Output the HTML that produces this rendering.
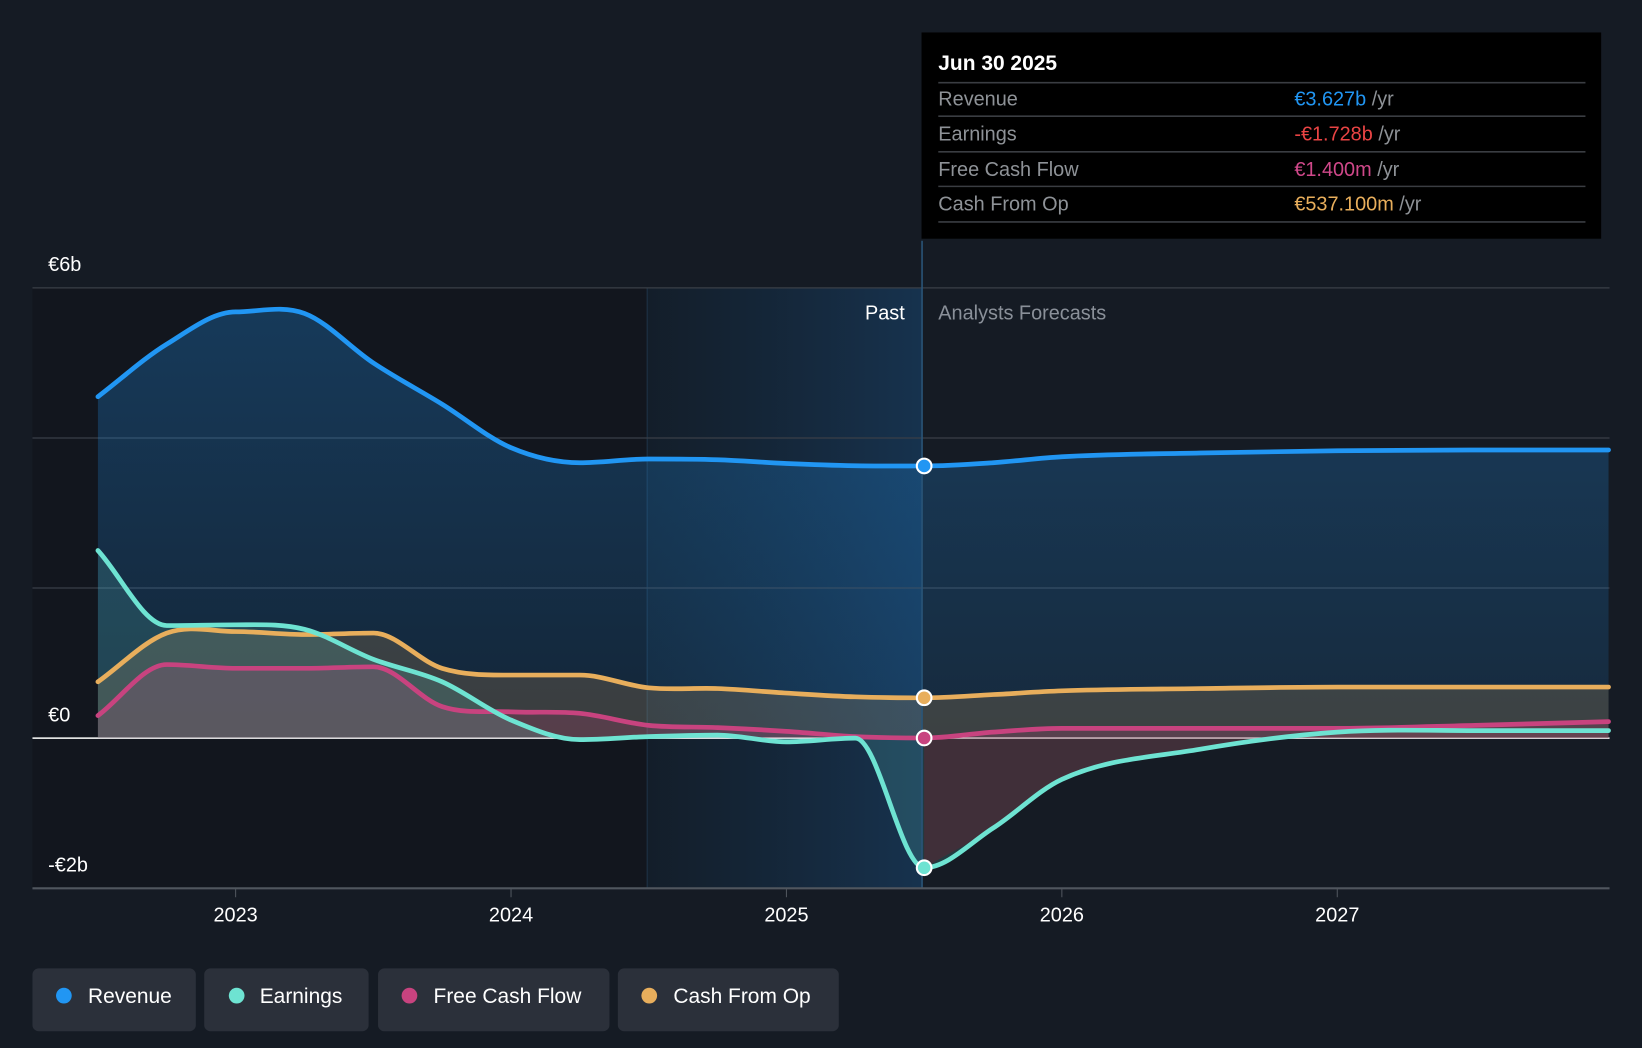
<!DOCTYPE html>
<html><head><meta charset="utf-8">
<style>
html,body{margin:0;padding:0;background:#151b24;overflow:hidden}
svg{display:block;font-family:"Liberation Sans",sans-serif}
</style></head>
<body>
<svg id="chart" width="1642" height="1048" viewBox="0 0 1568 1001" preserveAspectRatio="none">
<defs>
<linearGradient id="pastGrad" x1="0" y1="0" x2="1" y2="0">
<stop offset="0" stop-color="#12202e" stop-opacity="0.6"/><stop offset="1" stop-color="#173a5c" stop-opacity="0.75"/></linearGradient>
<linearGradient id="revGrad" x1="0" y1="0" x2="0" y2="1">
<stop offset="0" stop-color="#2196f3" stop-opacity="0.28"/><stop offset="1" stop-color="#2196f3" stop-opacity="0.12"/></linearGradient>
</defs>
<rect x="0" y="0" width="1568" height="1001" fill="#151b24"/>
<rect x="31" y="275" width="587" height="573" fill="#12161e"/>
<rect x="618" y="275" width="262" height="573" fill="url(#pastGrad)"/>
<line x1="618" y1="275" x2="618" y2="848" stroke="#1f3447" stroke-width="1"/>
<g id="grid"></g>
<g id="areas"></g>
<g id="lines"></g>
<line x1="880.5" y1="230" x2="880.5" y2="848" stroke="#2a5578" stroke-width="1.5"/>
<g id="dots"></g>
<g id="axes"></g>
<text x="864" y="305" text-anchor="end" fill="#ffffff" font-size="19">Past</text>
<text x="896" y="305" fill="#8a9099" font-size="19">Analysts Forecasts</text>

<g>
<rect x="880" y="31" width="649" height="197" fill="#000000"/>
<text x="896" y="67" fill="#ffffff" font-size="20" font-weight="bold">Jun 30 2025</text>
<g stroke="#3a3d42" stroke-width="1.5">
<line x1="896" y1="79" x2="1514" y2="79"/><line x1="896" y1="111" x2="1514" y2="111"/>
<line x1="896" y1="145" x2="1514" y2="145"/><line x1="896" y1="178" x2="1514" y2="178"/>
<line x1="896" y1="212" x2="1514" y2="212"/></g>
<g font-size="19" fill="#8e9297">
<text x="896" y="101">Revenue</text>
<text x="896" y="134">Earnings</text>
<text x="896" y="168">Free Cash Flow</text>
<text x="896" y="201">Cash From Op</text>
<text x="1236" y="101"><tspan fill="#2196f3">€3.627b</tspan> /yr</text>
<text x="1236" y="134"><tspan fill="#e94444">-€1.728b</tspan> /yr</text>
<text x="1236" y="168"><tspan fill="#d0488a">€1.400m</tspan> /yr</text>
<text x="1236" y="201"><tspan fill="#e8ae5c">€537.100m</tspan> /yr</text>
</g></g>

<g font-size="20" fill="#ffffff">
<g><rect x="31" y="925" width="156" height="60" rx="6" fill="#2b303a"/><circle cx="61" cy="951" r="7.5" fill="#2196f3"/><text x="84" y="958">Revenue</text></g>
<g><rect x="195" y="925" width="157" height="60" rx="6" fill="#2b303a"/><circle cx="226" cy="951" r="7.5" fill="#6ee3d2"/><text x="248" y="958">Earnings</text></g>
<g><rect x="361" y="925" width="221" height="60" rx="6" fill="#2b303a"/><circle cx="391" cy="951" r="7.5" fill="#c8437f"/><text x="414" y="958">Free Cash Flow</text></g>
<g><rect x="590" y="925" width="211" height="60" rx="6" fill="#2b303a"/><circle cx="620" cy="951" r="7.5" fill="#e8ae5c"/><text x="643" y="958">Cash From Op</text></g>
</g>
</svg>
<script>
const years = [2022.5,2022.75,2023,2023.25,2023.5,2023.75,2024,2024.25,2024.5,2024.75,2025,2025.25,2025.5,2025.75,2026,2026.5,2027,2027.5,2027.985];
const revenue = [4.55,5.25,5.68,5.66,5.0,4.45,3.87,3.67,3.72,3.71,3.66,3.63,3.627,3.67,3.75,3.8,3.83,3.84,3.84];
const earnings = [2.5,1.5,1.51,1.45,1.05,0.75,0.24,-0.02,0.02,0.04,-0.05,0.0,-1.728,-1.2,-0.55,-0.15,0.08,0.1,0.1];
const fcf = [0.3,0.98,0.93,0.93,0.95,0.42,0.35,0.33,0.17,0.14,0.09,0.02,0.0014,0.08,0.13,0.13,0.13,0.17,0.22];
const cfo = [0.75,1.4,1.42,1.38,1.4,0.93,0.84,0.84,0.67,0.66,0.6,0.55,0.537,0.58,0.63,0.66,0.68,0.68,0.68];
const yTicks = [-2,0,2,4,6];
const yTickLabels = {"-2":"-€2b","0":"€0","6":"€6b"};
const xTicks = [2023,2024,2025,2026,2027];
const currentX = 2025.5;

const NS="http://www.w3.org/2000/svg";
const xs = v => 225 + (v-2023)*263;
const ys = v => 705 - v*71.67;
function mk(tag, attrs, parent){const e=document.createElementNS(NS,tag);for(const k in attrs)e.setAttribute(k,attrs[k]);parent.appendChild(e);return e;}

function pathD(xv, yv){
  const n=xv.length, px=xv.map(xs), py=yv.map(ys);
  const d=[],m=[];
  for(let i=0;i<n-1;i++) d.push((py[i+1]-py[i])/(px[i+1]-px[i]));
  for(let i=0;i<n;i++){
    if(i===0) m.push(d[0]); else if(i===n-1) m.push(d[n-2]);
    else m.push(d[i-1]*d[i]<=0?0:(d[i-1]+d[i])/2);
  }
  let s="M"+px[0]+","+py[0];
  for(let i=0;i<n-1;i++){
    const h=(px[i+1]-px[i])/3;
    s+=" C"+(px[i]+h)+","+(py[i]+m[i]*h)+" "+(px[i+1]-h)+","+(py[i+1]-m[i+1]*h)+" "+px[i+1]+","+py[i+1];
  }
  return s;
}

const grid=document.getElementById('grid');
yTicks.forEach(t=>{
  const l=mk('line',{x1:31,x2:1537,y1:ys(t),y2:ys(t),stroke:t===0?'#ffffff':'#3a3f47','stroke-width':t===0?1.5:1.2},grid);
  
  
  if(yTickLabels[String(t)]){
    const tx=mk('text',{x:46,y:ys(t)-16,fill:'#ffffff','font-size':19},grid);
    tx.textContent=yTickLabels[String(t)];
    
    
  }
});

const axes=document.getElementById('axes');
const base=mk('line',{x1:31,x2:1537,y1:848.5,y2:848.5,stroke:'#50565e','stroke-width':2},axes);


xTicks.forEach(t=>{
  const tk=mk('line',{x1:xs(t),x2:xs(t),y1:849,y2:857,stroke:'#50565e','stroke-width':1},axes);
  
  
  const tx=mk('text',{x:xs(t),y:880,fill:'#ffffff','font-size':19,'text-anchor':'middle'},axes);
  tx.textContent=String(t);
  
  
});

const series=[
  {name:'revenue',data:revenue,color:'#2196f3',fill:'url(#revGrad)'},
  {name:'cash-from-op',data:cfo,color:'#e8ae5c',fill:'rgba(232,174,92,0.18)'},
  {name:'free-cash-flow',data:fcf,color:'#c8437f',fill:'rgba(200,67,127,0.2)'},
  {name:'earnings',data:earnings,color:'#6ee3d2',fill:'rgba(110,227,210,0.16)'}
];
const areas=document.getElementById('areas'), lines=document.getElementById('lines'), dots=document.getElementById('dots');
const idx=years.indexOf(currentX);
series.forEach(s=>{
  const d=pathD(years,s.data);
  const a=mk('path',{d:d+" L"+xs(years[years.length-1])+","+ys(0)+" L"+xs(years[0])+","+ys(0)+" Z",fill:s.fill,stroke:'none'},areas);
  
  
});
const negArea=mk('path',{d:pathD(years.slice(idx),earnings.slice(idx))+" L"+xs(years[years.length-1])+","+ys(0)+" L"+xs(currentX)+","+ys(0)+" Z",fill:'rgba(120,30,45,0.35)'},areas);


series.forEach(s=>{
  const l=mk('path',{d:pathD(years,s.data),fill:'none',stroke:s.color,'stroke-width':4.5,'stroke-linecap':'round'},lines);
  
  
  const c=mk('circle',{cx:xs(currentX),cy:ys(s.data[idx]),r:7,fill:s.color,stroke:'#ffffff','stroke-width':2},dots);
  
  
});
</script>
</body></html>
